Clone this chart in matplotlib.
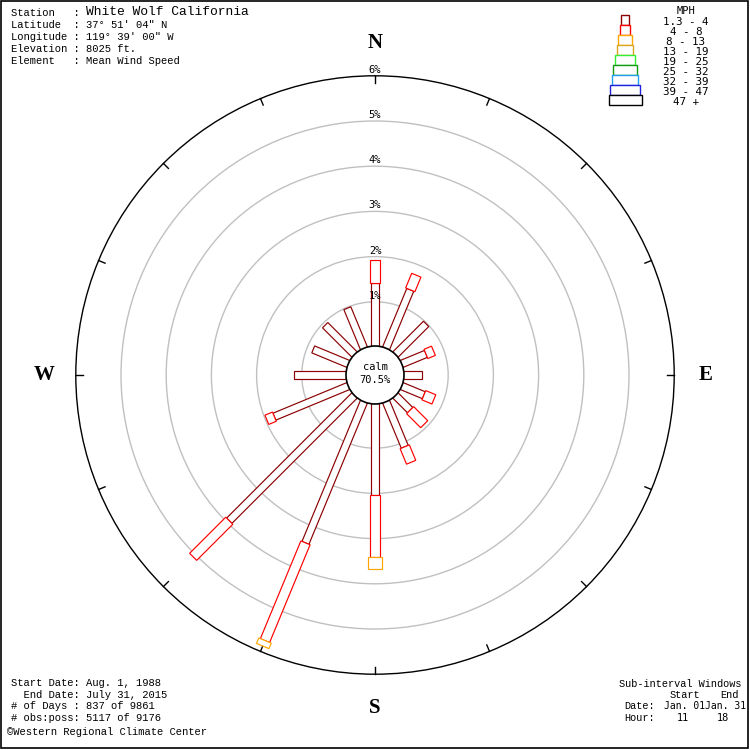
import numpy as np
import matplotlib
matplotlib.use("Agg")
import matplotlib.pyplot as plt
from matplotlib.patches import Rectangle, Circle
from matplotlib.transforms import Affine2D

# ---------------- data ----------------
directions = ['N', 'NNE', 'NE', 'ENE', 'E', 'ESE', 'SE', 'SSE',
              'S', 'SSW', 'SW', 'WSW', 'W', 'WNW', 'NW', 'NNW']
speed_classes = ['1.3 - 4', '4 - 8', '8 - 13', '13 - 19', '19 - 25',
                 '25 - 32', '32 - 39', '39 - 47', '47 +']
# percent frequency per direction for each speed class
spd_1_4 = [1.42, 1.42, 0.98, 0.60, 0.43, 0.55, 0.48, 1.10,
           2.04, 3.40, 3.94, 1.79, 1.17, 0.86, 0.94, 0.98]
spd_4_8 = [0.51, 0.35, 0.00, 0.18, 0.00, 0.24, 0.44, 0.37,
           1.37, 2.34, 1.13, 0.18, 0.00, 0.00, 0.00, 0.00]
spd_8_13 = [0, 0, 0, 0, 0, 0, 0, 0, 0.26, 0.13, 0, 0, 0, 0, 0, 0]
spd_13_19 = [0] * 16
spd_19_25 = [0] * 16
spd_25_32 = [0] * 16
spd_32_39 = [0] * 16
spd_39_47 = [0] * 16
spd_47p = [0] * 16
series = [spd_1_4, spd_4_8, spd_8_13, spd_13_19, spd_19_25,
          spd_25_32, spd_32_39, spd_39_47, spd_47p]
calm_pct = 70.5
ring_pcts = [1, 2, 3, 4, 5, 6]
compass = [('N', 0), ('E', 90), ('S', 180), ('W', 270)]

header_lines = ["Station   : ",
                "Latitude  : 37° 51' 04\" N",
                "Longitude : 119° 39' 00\" W",
                "Elevation : 8025 ft.",
                "Element   : Mean Wind Speed"]
station_name = "White Wolf California"
footer_lines = ["Start Date: Aug. 1, 1988",
                "  End Date: July 31, 2015",
                "# of Days : 837 of 9861",
                "# obs:poss: 5117 of 9176"]
credit = "\u00a9Western Regional Climate Center"

# ---------------- style ----------------
colors = ['#8b0000', '#ff0000', '#ffa500', '#daa520', '#33ee33',
          '#119911', '#22a0ee', '#2020dd', '#000000']
widths = [7.5, 10, 13.5, 16.5, 20, 23.5, 26, 29.5, 33]
CX, CY = 375, 375
R0 = 28.0        # calm circle radius (px)
SCALE = 45.2     # px per percent
MONO = 'Liberation Mono'
SMONO = 'DejaVu Sans Mono'


def rad(p):
    return R0 + SCALE * p


fig = plt.figure(figsize=(7.5, 7.5), dpi=100)
ax = fig.add_axes([0, 0, 1, 1])
ax.set_xlim(0, 750)
ax.set_ylim(750, 0)
ax.set_aspect('equal')
ax.axis('off')

# frame
ax.add_patch(Rectangle((0.5, 0.5), 747, 747.5, fill=False, ec='black', lw=1.2, zorder=10))

# rings
for k in ring_pcts:
    col = 'black' if k == ring_pcts[-1] else '#c0c0c0'
    ax.add_patch(Circle((CX, CY), rad(k), fill=False, ec=col, lw=1.0, zorder=1))
    ax.text(CX, CY - rad(k) - 6, f"{k}%", ha='center', va='center',
            fontsize=7.5, family=SMONO, zorder=15)

# ticks on outer circle
rmax = rad(ring_pcts[-1])
for i in range(len(directions)):
    th = np.deg2rad(i * 22.5)
    ax.plot([CX + rmax * np.sin(th), CX + (rmax - 7) * np.sin(th)],
            [CY - rmax * np.cos(th), CY - (rmax - 7) * np.cos(th)],
            color='black', lw=1.0, zorder=2)

# bars
for i, d in enumerate(directions):
    trans = Affine2D().rotate_deg(i * 22.5 - 90).translate(CX, CY) + ax.transData
    cum = 0.0
    for c, vals in enumerate(series):
        v = vals[i]
        if v <= 0:
            continue
        r_a, r_b = rad(cum), rad(cum + v)
        ax.add_patch(Rectangle((r_a, -widths[c] / 2), r_b - r_a, widths[c],
                               transform=trans, fc='white', ec=colors[c],
                               lw=0.85, zorder=3 + c))
        cum += v

# calm circle
ax.add_patch(Circle((CX, CY), R0 + 1, fc='white', ec='black', lw=1.2, zorder=20))
ax.text(CX, 367, 'calm', ha='center', va='center', fontsize=7.5, family=SMONO, zorder=21)
ax.text(CX, 380, f'{calm_pct}%', ha='center', va='center', fontsize=7.5, family=SMONO, zorder=21)

# compass letters
for lab, ang in compass:
    th = np.deg2rad(ang)
    rr = 331 if ang in (90, 270) else 333
    ax.text(CX + rr * np.sin(th), CY - rr * np.cos(th) + (1 if ang == 0 else 0), lab,
            ha='center', va='center', fontsize=15, fontweight='bold',
            family='Liberation Serif')

# legend
ax.text(686, 11, 'MPH', ha='center', va='center', fontsize=7.5, family=SMONO)
for c, lab in enumerate(speed_classes):
    ax.add_patch(Rectangle((625 - widths[c] / 2, 15 + 10 * c), widths[c], 10,
                           fc='white', ec=colors[c], lw=1.0))
    ax.text(686, 22 + 10 * c, lab, ha='center', va='center', fontsize=7.8, family=SMONO)

# header text
hy = [13, 25, 36.5, 48.5, 61]
for y, line in zip(hy, header_lines):
    ax.text(11, y, line, ha='left', va='center', fontsize=7.6, family=MONO)
ax.text(86, 12, station_name, ha='left', va='center', fontsize=9.4, family=MONO)

# footer text
fy = [683, 694.5, 706, 718]
for y, line in zip(fy, footer_lines):
    ax.text(11, y, line, ha='left', va='center', fontsize=7.6, family=MONO)
ax.text(7, 732, credit, ha='left', va='center', fontsize=7.6, family=MONO)

# sub-interval text
ax.text(619, 684, 'Sub-interval Windows', ha='left', va='center', fontsize=7.4, family=MONO)
ax.text(670, 695, 'Start', ha='left', va='center', fontsize=7.4, family=MONO)
ax.text(720, 695, 'End', ha='left', va='center', fontsize=7.4, family=MONO)
ax.text(624, 706, 'Date:', ha='left', va='center', fontsize=7.4, family=MONO)
ax.text(664, 706, 'Jan. 01', ha='left', va='center', fontsize=7.0, family=SMONO)
ax.text(705, 706, 'Jan. 31', ha='left', va='center', fontsize=7.0, family=SMONO)
ax.text(624, 718, 'Hour:', ha='left', va='center', fontsize=7.4, family=MONO)
ax.text(683, 718, '11', ha='center', va='center', fontsize=7.4, family=SMONO)
ax.text(723, 718, '18', ha='center', va='center', fontsize=7.4, family=SMONO)

fig.savefig('out.png', dpi=100)
